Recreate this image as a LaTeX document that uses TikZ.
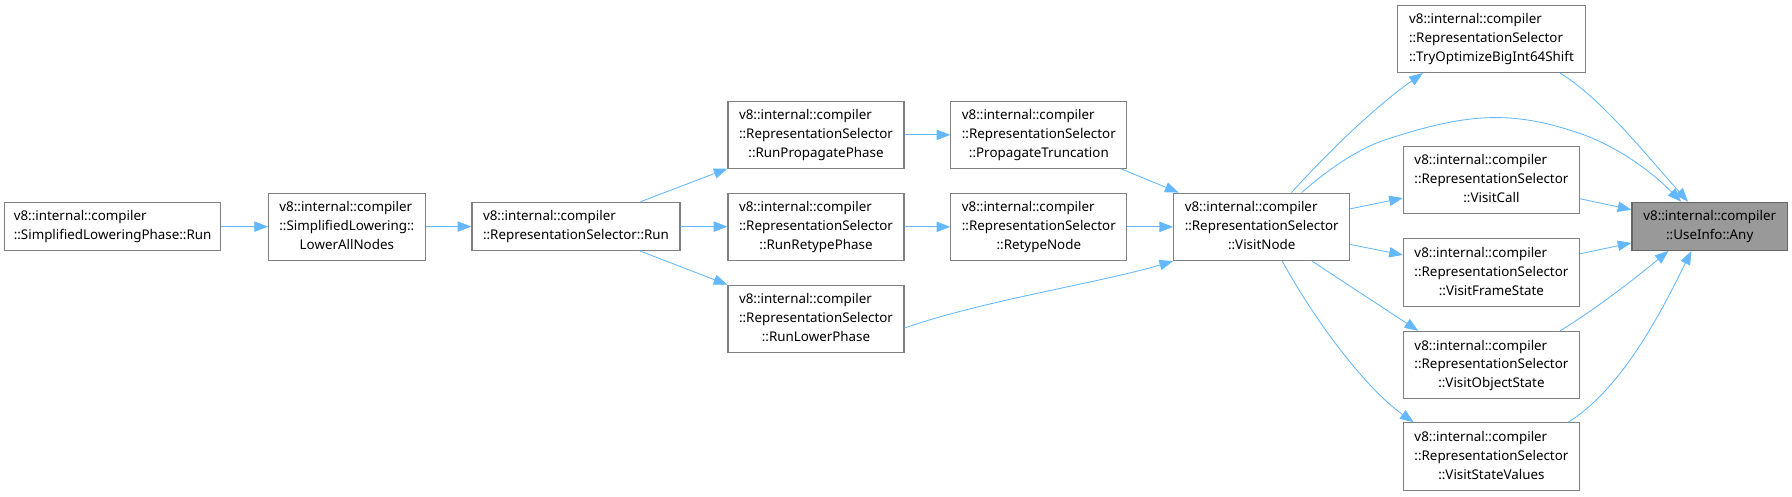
\documentclass[tikz,border=0pt]{standalone}
\usepackage{fontspec}
\setmainfont{Noto Sans}
\usetikzlibrary{arrows.meta}

\definecolor{edgeblue}{HTML}{63B8FF}
\definecolor{boxgray}{HTML}{808080}
\definecolor{hitfill}{HTML}{999999}
\definecolor{hitdraw}{HTML}{666666}

\newcommand{\fnlabel}[2]{\begin{tabular}{@{}l@{}}#1\\\multicolumn{1}{@{}c@{}}{#2}\end{tabular}}

\tikzset{every picture/.style={line width=0.75pt},
  fnbox/.style={draw=boxgray, fill=white, line width=1pt, inner sep=2pt, minimum width=154pt, minimum height=59pt, font=\fontsize{11.7}{16.5}\selectfont},
  fnshort/.style={fnbox, minimum height=42pt},
  fnhit/.style={fnshort, draw=hitdraw, fill=hitfill, minimum width=136pt},
  calls/.style={draw=edgeblue, line width=0.75pt, -{Triangle[length=12pt,width=9pt,fill=edgeblue]}}
}

\begin{document}
\begin{tikzpicture}[x=1pt,y=1pt,yscale=-1,xscale=1]
\useasboundingbox (0,0) rectangle (1568,434);

%Flowchart: Process
\node[fnshort, minimum width=189pt] (slrun) at (98.5,198) {\fnlabel{v8::internal::compiler}{::SimplifiedLoweringPhase::Run}};
%Flowchart: Process
\node[fnbox, minimum width=137pt] (lower) at (303.5,198.5) {\fnlabel{v8::internal::compiler\\::SimplifiedLowering::}{LowerAllNodes}};
%Flowchart: Process
\node[fnshort, minimum width=182pt] (rsrun) at (504,198) {\fnlabel{v8::internal::compiler}{::RepresentationSelector::Run}};
%Flowchart: Process
\node[fnbox] (runprop) at (714,118) {\fnlabel{v8::internal::compiler\\::RepresentationSelector}{::RunPropagatePhase}};
%Flowchart: Process
\node[fnbox] (runretype) at (714,198.5) {\fnlabel{v8::internal::compiler\\::RepresentationSelector}{::RunRetypePhase}};
%Flowchart: Process
\node[fnbox] (runlower) at (714,279) {\fnlabel{v8::internal::compiler\\::RepresentationSelector}{::RunLowerPhase}};
%Flowchart: Process
\node[fnbox] (proptrunc) at (909,118) {\fnlabel{v8::internal::compiler\\::RepresentationSelector}{::PropagateTruncation}};
%Flowchart: Process
\node[fnbox] (retype) at (909,198.5) {\fnlabel{v8::internal::compiler\\::RepresentationSelector}{::RetypeNode}};
%Flowchart: Process
\node[fnbox] (vnode) at (1104,198.5) {\fnlabel{v8::internal::compiler\\::RepresentationSelector}{::VisitNode}};
%Flowchart: Process
\node[fnbox, minimum width=164pt] (tryopt) at (1305,34) {\fnlabel{v8::internal::compiler\\::RepresentationSelector}{::TryOptimizeBigInt64Shift}};
%Flowchart: Process
\node[fnbox] (vcall) at (1305,157.5) {\fnlabel{v8::internal::compiler\\::RepresentationSelector}{::VisitCall}};
%Flowchart: Process
\node[fnbox] (vframe) at (1305,238.5) {\fnlabel{v8::internal::compiler\\::RepresentationSelector}{::VisitFrameState}};
%Flowchart: Process
\node[fnbox] (vobj) at (1305,319.5) {\fnlabel{v8::internal::compiler\\::RepresentationSelector}{::VisitObjectState}};
%Flowchart: Process
\node[fnbox] (vsv) at (1305,399.5) {\fnlabel{v8::internal::compiler\\::RepresentationSelector}{::VisitStateValues}};
%Flowchart: Process
\node[fnhit] (usea) at (1496,198) {\fnlabel{v8::internal::compiler}{::UseInfo::Any}};

%Straight Lines
\draw[calls] (slrun) -- (lower);
\draw[calls] (lower) -- (rsrun);
\draw[calls] (rsrun) -- (runprop);
\draw[calls] (rsrun) -- (runretype);
\draw[calls] (rsrun) -- (runlower);
\draw[calls] (runprop) -- (proptrunc);
\draw[calls] (runretype) -- (retype);
\draw[calls] (proptrunc) -- (vnode);
\draw[calls] (retype) -- (vnode);
%Curve Lines
\draw[calls] ([yshift=8pt]runlower.east) .. controls (860,263) and (960,248) .. (vnode.south west);
%Curve Lines
\draw[calls] ([xshift=26pt]vnode.north) .. controls (1165,130) and (1205,92) .. ([xshift=-60pt]tryopt.south);
%Curve Lines
\draw[calls] ([xshift=35pt]vnode.north) .. controls (1160,150) and (1185,132) .. (1210,123) .. controls (1280,100) and (1320,95) .. (1383,117) .. controls (1415,128) and (1445,150) .. ([xshift=-25pt]usea.north);
%Straight Lines
\draw[calls] (vnode) -- (vcall);
\draw[calls] (vnode) -- (vframe);
\draw[calls] ([xshift=44pt]vnode.south) -- ([xshift=-64pt]vobj.north);
%Curve Lines
\draw[calls] ([xshift=18pt]vnode.south) .. controls (1150,280) and (1195,340) .. ([xshift=-68pt]vsv.north);
%Curve Lines
\draw[calls] ([xshift=60pt]tryopt.south) .. controls (1400,85) and (1440,135) .. ([xshift=-19pt]usea.north);
%Straight Lines
\draw[calls] (vcall) -- (usea);
\draw[calls] (vframe) -- (usea);
%Curve Lines
\draw[calls] ([xshift=60pt]vobj.north) .. controls (1400,268) and (1435,240) .. ([xshift=-36pt]usea.south);
%Curve Lines
\draw[calls] ([xshift=67pt]vsv.north) .. controls (1420,340) and (1455,270) .. ([xshift=-16pt]usea.south);

\end{tikzpicture}
\end{document}
